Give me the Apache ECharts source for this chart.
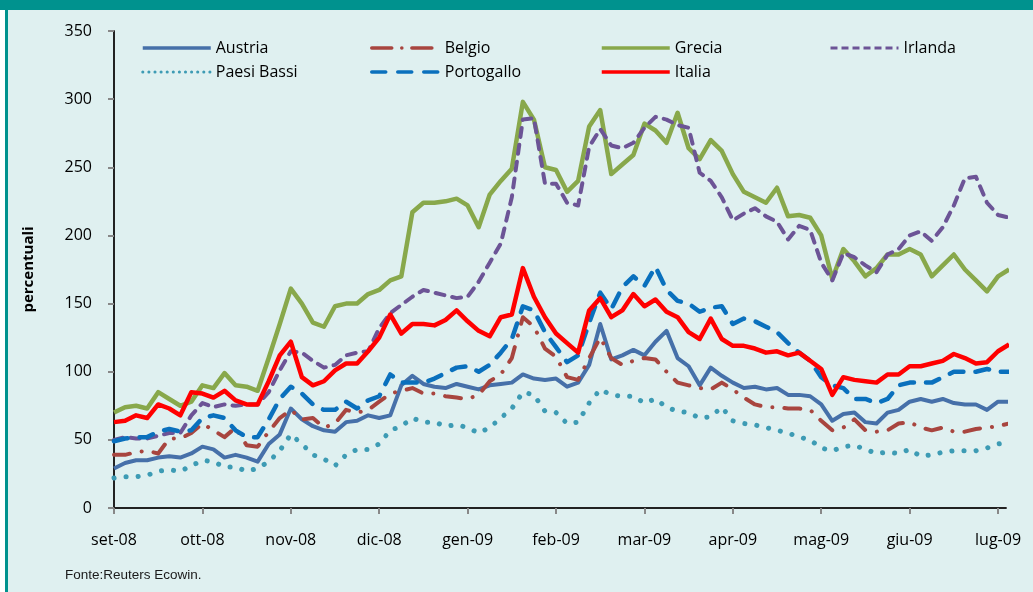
<!DOCTYPE html>
<html>
<head>
<meta charset="utf-8">
<script src="https://cdn.jsdelivr.net/npm/echarts@6/dist/echarts.min.js"></script>
<style>
  html, body { margin: 0; padding: 0; background: #ffffff; }
  #wrap { position: relative; width: 1033px; height: 592px; overflow: hidden; }
  #bar { position: absolute; left: 0; top: 0; width: 1033px; height: 10px; background: #00928e; }
  #panel { position: absolute; left: 5px; top: 10px; width: 1028px; height: 582px;
           background: #dff0f0; border-left: 3px solid #00928e; box-sizing: border-box; }
  #chart { position: absolute; left: 0; top: 0; width: 1033px; height: 592px; }
</style>
</head>
<body>
<div id="wrap">
  <div id="bar"></div>
  <div id="panel"></div>
  <div id="chart"></div>
</div>
<script>
// etichette mensili (asse x), un punto ogni 1/8 di mese
const months = ['set-08', 'ott-08', 'nov-08', 'dic-08', 'gen-09', 'feb-09',
                'mar-09', 'apr-09', 'mag-09', 'giu-09', 'lug-09'];
const step = 0.125;

const austria = [29,33,35,35,37,38,37,40,45,43, 37,39,37,34,47,54,73,65,60,57,
  56,63,64,68,66,68,90,97,91,89, 88,91,89,87,90,91,92,98,95,94,
  95,89,92,105,135,109,112,116,112,122, 130,110,104,90,103,97,92,88,89,87,
  88,83,83,82,76,64,69,70,63,62, 70,72,78,80,78,80,77,76,76,72, 78,78];

const belgio = [39,39,41,42,40,51,51,55,62,57, 52,59,46,45,56,66,72,65,66,59,
  62,72,70,72,78,84,86,88,84,84, 82,81,80,83,93,98,110,140,133,117,
  111,96,94,110,125,110,105,108,110,109, 100,92,90,88,87,92,87,81,76,74,
  74,73,73,72,64,57,59,65,57,56, 57,62,63,59,57,59,56,56,58,59, 60,62];

const grecia = [70,74,75,73,85,80,75,78,90,88, 99,90,89,86,110,135,161,150,136,133,
  148,150,150,157,160,167,170,217,224,224, 225,227,222,206,230,240,249,298,285,250,
  248,232,240,280,292,245,252,259,282,277, 268,290,264,256,270,262,245,232,228,224,
  235,214,215,213,200,168,190,181,170,176, 186,186,190,186,170,178,186,175,167,159, 170,175];

const irlanda = [50,52,51,51,53,55,55,68,77,74, 76,75,76,76,85,101,115,114,108,103,
  105,112,114,115,132,143,149,155,160,158, 156,154,155,166,180,194,228,285,286,238,
  238,224,222,265,278,266,264,268,279,287, 285,281,279,246,240,228,211,216,220,214,
  210,197,207,204,180,167,187,184,178,173, 186,190,200,203,196,206,222,242,243,224, 215,213];

const paesiBassi = [22,23,23,24,27,28,27,31,35,34, 30,30,27,29,34,42,54,47,39,36,
  31,39,43,43,47,57,60,66,63,63, 60,61,59,55,59,66,73,85,83,71,
  70,62,63,77,87,83,82,82,77,80, 74,71,70,66,67,74,64,62,61,59,
  57,55,52,50,44,42,45,46,43,40, 41,40,43,38,39,41,42,42,42,44, 47,48];

const portogallo = [49,51,52,52,56,58,56,57,66,68, 66,57,52,52,65,80,89,84,76,72,
  72,78,73,79,82,98,92,92,92,95, 99,103,104,100,105,114,124,148,145,129,
  118,107,112,136,158,146,162,170,163,177, 160,152,150,144,147,148,135,139,137,133,
  129,121,114,108,96,90,88,80,80,77, 80,90,92,92,92,96,100,100,100,102, 100,100];

const italia = [63,64,68,66,76,73,68,85,84,81, 86,79,76,76,93,112,122,96,90,93,
  101,106,106,115,125,142,128,135,135,134, 138,145,137,130,126,140,142,176,155,140,
  128,121,114,145,154,140,145,157,148,153, 144,140,129,124,139,124,119,119,117,114,
  115,112,114,108,102,83,96,94,93,92, 98,98,104,104,106,108,113,110,106,107, 115,120];

const yTicks = [0, 50, 100, 150, 200, 250, 300, 350];
const monthTicks = months.map((m, i) => i);

const font = '"Open Sans", "Noto Sans", sans-serif';

function toPoints(arr) {
    return arr.map((v, i) => [i * step, v]);
}

function makeSeries(name, data, color, width, type, cap) {
    return {
        name: name,
        type: 'line',
        data: toPoints(data),
        showSymbol: false,
        symbol: 'none',
        smooth: false,
        lineStyle: { color: color, width: width, type: type, cap: cap || 'butt', join: 'round' },
        itemStyle: { color: color }
    };
}

const myChart = echarts.init(document.getElementById('chart'));

// 4 colonne di legenda, due righe
const legendBase = {
    orient: 'vertical',
    top: 40,
    itemWidth: 68,
    itemHeight: 16,
    itemGap: 8,
    padding: 0,
    itemStyle: { opacity: 0, borderWidth: 0 },
    lineStyle: { width: 3.5 },
    textStyle: { fontFamily: font, fontSize: 16, color: '#000', lineHeight: 16 }
};

const option = {
    animation: false,
    backgroundColor: 'transparent',
    grid: { left: 114, right: 27, top: 31, bottom: 84, containLabel: false, outerBoundsMode: 'none' },
    legend: [
        Object.assign({}, legendBase, { left: 141, data: ['Austria',
            { name: 'Paesi Bassi', lineStyle: { type: [0.1, 6], width: 3 } }] }),
        Object.assign({}, legendBase, { left: 370, data: [
            { name: 'Belgio', lineStyle: { type: [20, 10, 0.1, 10], width: 3.5 } }, 'Portogallo'] }),
        Object.assign({}, legendBase, { left: 600, data: ['Grecia', 'Italia'] }),
        Object.assign({}, legendBase, { left: 829, data: [
            { name: 'Irlanda', lineStyle: { type: [7, 4], width: 3, cap: 'butt' } }] })
    ],
    xAxis: [{
        type: 'value',
        min: 0,
        max: 10.09,
        interval: 1,
        axisLine: { lineStyle: { color: '#888', width: 2 } },
        axisTick: { show: true, length: 6, inside: false, customValues: monthTicks,
                    lineStyle: { color: '#888', width: 2 } },
        axisLabel: {
            customValues: monthTicks,
            formatter: v => months[Math.round(v)] || '',
            margin: 24,
            fontFamily: font, fontSize: 16, color: '#000'
        },
        splitLine: { show: false }
    }, {
        type: 'value',
        position: 'top',
        min: 0,
        max: 10.09,
        axisLine: { show: true, lineStyle: { color: '#000', width: 1.5 } },
        axisTick: { show: false },
        axisLabel: { show: false },
        splitLine: { show: false }
    }],
    yAxis: [{
        type: 'value',
        min: 0,
        max: 350,
        interval: 50,
        name: 'percentuali',
        nameLocation: 'middle',
        nameRotate: 90,
        nameGap: 78,
        nameTextStyle: { fontFamily: font, fontSize: 15, fontWeight: 'bold', color: '#000' },
        axisLine: { show: true, lineStyle: { color: '#888', width: 2 } },
        axisTick: { show: true, length: 6, inside: false, customValues: yTicks, lineStyle: { color: '#888', width: 2 } },
        axisLabel: { customValues: yTicks, margin: 22, fontFamily: font, fontSize: 16, color: '#000' },
        splitLine: { show: false }
    }, {
        type: 'value',
        position: 'right',
        min: 0,
        max: 350,
        axisLine: { show: true, lineStyle: { color: '#000', width: 1.5 } },
        axisTick: { show: false },
        axisLabel: { show: false },
        splitLine: { show: false }
    }],
    graphic: [{
        type: 'text',
        left: 65,
        top: 568,
        style: { text: 'Fonte:Reuters Ecowin.', font: '13.5px "Liberation Sans", Arial, sans-serif', fill: '#1a1a1a' }
    }],
    series: [
        makeSeries('Austria', austria, '#4670a9', 4),
        makeSeries('Belgio', belgio, '#a8453f', 4, [16, 12, 0.1, 12], 'round'),
        makeSeries('Grecia', grecia, '#88a84b', 4.5),
        makeSeries('Irlanda', irlanda, '#6c5496', 4, [9, 8], 'round'),
        makeSeries('Paesi Bassi', paesiBassi, '#3d9bb4', 5, [0.1, 12], 'round'),
        makeSeries('Portogallo', portogallo, '#0a70bd', 4.5, [14, 12], 'round'),
        makeSeries('Italia', italia, '#ff0000', 4.5)
    ]
};

myChart.setOption(option);
window.addEventListener('resize', function () {
    myChart.resize();
});
</script>
</body>
</html>
